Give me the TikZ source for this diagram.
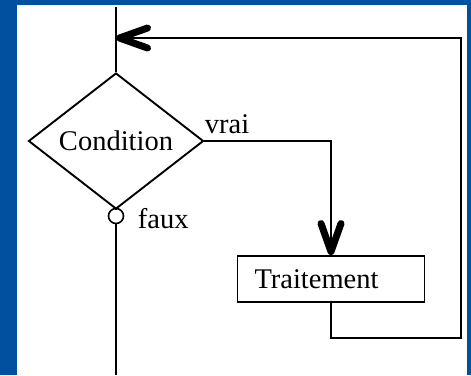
\documentclass[tikz,border=0pt]{standalone}
\usepackage{fontspec}
\setmainfont{Liberation Serif}
\usetikzlibrary{shapes.geometric,arrows.meta,positioning}
\definecolor{slideblue}{RGB}{0,80,160}

\begin{document}
\begin{tikzpicture}[x=1pt, y=-1pt, line width=1.9pt,
    every node/.style={font=\fontsize{28.5}{34}\selectfont}]
    \tikzset{test/.style={draw, diamond, minimum width=175pt, minimum height=136pt, inner sep=0pt},
             action/.style={draw, rectangle, minimum height=46pt, text width=153pt, inner xsep=17pt, inner ysep=0pt, align=left},
             branch/.style={draw, fill=white, shape=circle, minimum size=15pt, inner sep=0pt, line width=1.6pt},
             lbl/.style={inner sep=0pt},
             flow/.style={-{Straight Barb[length=28pt, width=20pt, line width=7pt, round]}}}

    \fill[slideblue] (0,0) rectangle (471,375);
    \fill[white] (17,5) rectangle (467,375);

    \draw (116,141) node (cond) [test] {Condition};
    \draw (331,279) node (trait) [action] {Traitement};
    \draw (116,216) node (fx) [branch] {};
    \coordinate (top) at (116,7);
    \coordinate (join) at (116,38);
    \coordinate (bottom) at (116,375);
    \coordinate (corner) at (461,338);
    \node (vrai) [lbl, anchor=base west] at (204,133) {vrai};
    \node (faux) [lbl, anchor=base west] at (137,228) {faux};

    \draw (top) -- (cond.north);
    \draw (cond.south) -- (fx) -- (bottom);
    \draw[flow] (cond.east) -| (trait.north);
    \draw[flow] (trait.south) |- (corner) |- (join);
\end{tikzpicture}
\end{document}
